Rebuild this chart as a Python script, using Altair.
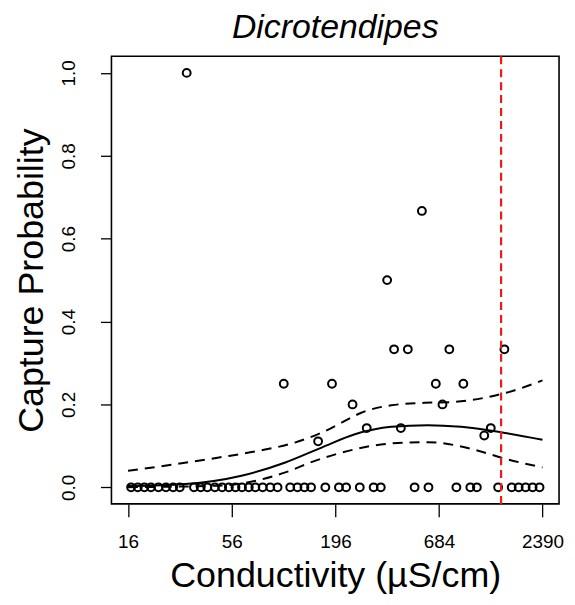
import altair as alt
import pandas as pd

# ---- data ----
pt_cond = [32.5, 557, 366, 398, 470, 776, 1509, 105, 188, 659, 919, 241, 714,
           159, 286, 432, 1280, 1183,
           16.6, 18.0, 19.5, 21.1, 23.1, 25.3, 27.6, 29.9, 35.5, 38.5, 41.7, 45.7,
           49.9, 54.1, 58.6, 63.4, 68.8, 74.5, 81.4, 89.2, 97.4, 113.5, 123.9,
           134.8, 146, 173.5, 204.5, 223, 263, 311, 339, 510, 603, 845, 1000,
           1082, 1399, 1648, 1793, 1950, 2122, 2307]
pt_prob = [1.0, 0.667, 0.5, 0.333, 0.333, 0.333, 0.333, 0.25, 0.25, 0.25, 0.25,
           0.2, 0.2, 0.111, 0.143, 0.143, 0.143, 0.125] + [0.0] * 42

fit_cond = [16, 32, 63, 107, 166, 248, 385, 598, 894, 1444, 2390]
fit_prob = [0.003, 0.008, 0.028, 0.060, 0.096, 0.128, 0.146, 0.150, 0.146, 0.133, 0.115]

up_cond = [16, 28.5, 48, 77.5, 120, 166, 211, 268, 385, 575, 824, 1183, 1565, 2390]
up_prob = [0.040, 0.056, 0.072, 0.088, 0.108, 0.132, 0.156, 0.180, 0.198, 0.204,
           0.206, 0.216, 0.229, 0.258]

lo_cond = [16, 48, 75, 107, 153, 229, 385, 598, 824, 1183, 1444, 2390]
lo_prob = [0.0005, 0.004, 0.016, 0.036, 0.064, 0.088, 0.106, 0.109, 0.102, 0.084,
           0.072, 0.048]

threshold = [1450]
x_ticks = [16, 56, 196, 684, 2390]
y_ticks = [0.0, 0.2, 0.4, 0.6, 0.8, 1.0]

FONT = "Liberation Sans"

points = pd.DataFrame({"cond": pt_cond, "prob": pt_prob})
fit = pd.DataFrame({"cond": fit_cond, "prob": fit_prob})
bands = pd.concat([
    pd.DataFrame({"cond": up_cond, "prob": up_prob, "band": "upper"}),
    pd.DataFrame({"cond": lo_cond, "prob": lo_prob, "band": "lower"}),
])
thr = pd.DataFrame({"cond": threshold})

xscale = alt.Scale(type="log", domain=[13.097, 2919.9], nice=False)
yscale = alt.Scale(domain=[-0.04, 1.04], nice=False, zero=False)

xenc = alt.X("cond:Q", scale=xscale,
             axis=alt.Axis(values=x_ticks, labelExpr="format(datum.value, 'd')",
                           title="Conductivity (µS/cm)", grid=False, domain=False,
                           tickColor="black", tickWidth=1.3, tickSize=13,
                           labelFont=FONT, labelFontSize=19, labelColor="black",
                           labelPadding=16, labelFlush=False, labelOverlap=False,
                           titleFont=FONT, titleFontSize=36, titleFontWeight="normal",
                           titleColor="black", titlePadding=7))
yenc = alt.Y("prob:Q", scale=yscale,
             axis=alt.Axis(values=y_ticks, format=".1f",
                           title="Capture Probability", grid=False, domain=False,
                           tickColor="black", tickWidth=1.3, tickSize=11,
                           labelFont=FONT, labelFontSize=19, labelColor="black",
                           labelAngle=270, labelAlign="center", labelBaseline="bottom",
                           labelPadding=22, labelFlush=False, labelOverlap=False,
                           titleFont=FONT, titleFontSize=36, titleFontWeight="normal",
                           titleColor="black", titlePadding=9))

pts = alt.Chart(points).mark_point(shape="circle", filled=False, color="black",
                                   strokeWidth=2, size=62, opacity=1).encode(x=xenc, y=yenc)

fit_line = alt.Chart(fit).mark_line(color="black", strokeWidth=2,
                                    interpolate="monotone").encode(x="cond:Q", y="prob:Q")

band_lines = alt.Chart(bands).mark_line(color="black", strokeWidth=2, strokeDash=[10, 7],
                                        interpolate="monotone").encode(
    x="cond:Q", y="prob:Q", detail="band:N")

rule = alt.Chart(thr).mark_rule(color="#f01818", strokeWidth=2.2, strokeDash=[8, 5]).encode(
    x="cond:Q")

chart = alt.layer(pts, fit_line, band_lines, rule).properties(
    width=450, height=450,
    title=alt.TitleParams("Dicrotendipes", font=FONT, fontSize=34, fontStyle="italic",
                          fontWeight="normal", color="black", anchor="middle", offset=10),
    autosize=alt.AutoSizeParams(type="none"),
    padding={"left": 104, "top": 47, "right": 8, "bottom": 92},
).configure(background="white").configure_view(stroke="black", strokeWidth=1.6)

chart.save("out.html", embed_options={"renderer": "svg", "actions": False})
